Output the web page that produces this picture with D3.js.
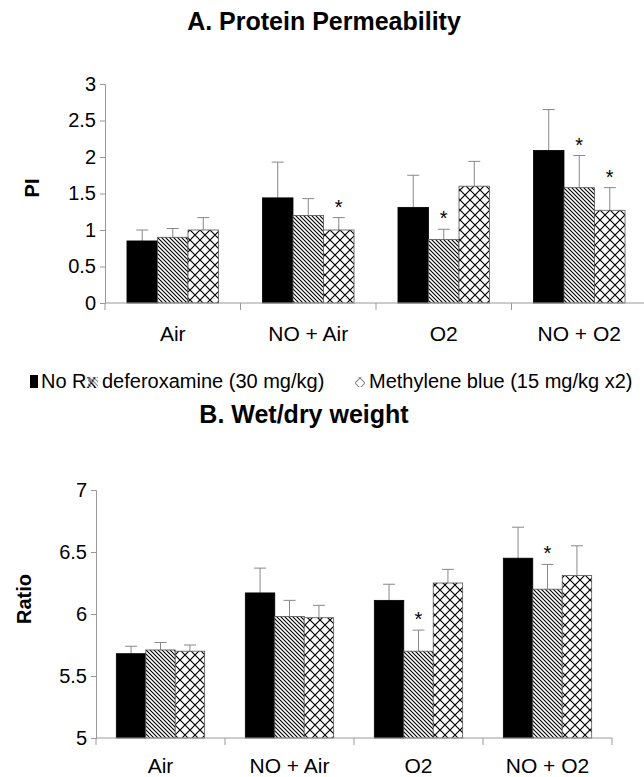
<!DOCTYPE html>
<html>
<head>
<meta charset="utf-8">
<script src="https://cdn.jsdelivr.net/npm/d3@7"></script>
<style>
  body { margin: 0; background: #fff; }
  svg { display: block; font-family: "Liberation Sans", Arial, sans-serif; }
</style>
</head>
<body>
<svg id="chart" width="644" height="777"></svg>
<script>
const categories = ["Air", "NO + Air", "O2", "NO + O2"];
const series = ["No Rx", "deferoxamine (30 mg/kg)", "Methylene blue (15 mg/kg x2)"];

// A. Protein permeability (PI): mean and mean + SE, per series
const piMean = [
  [0.85, 1.44, 1.31, 2.09],
  [0.90, 1.20, 0.87, 1.58],
  [1.00, 1.00, 1.60, 1.27],
];
const piTop = [
  [1.00, 1.93, 1.75, 2.65],
  [1.02, 1.43, 1.01, 2.02],
  [1.17, 1.17, 1.94, 1.58],
];
const piStar = [
  [false, false, false, false],
  [false, false, true, true],
  [false, true, false, true],
];
const piTicks = [0, 0.5, 1, 1.5, 2, 2.5, 3];

// B. Wet/dry weight ratio
const ratioMean = [
  [5.68, 6.17, 6.11, 6.45],
  [5.71, 5.98, 5.70, 6.20],
  [5.70, 5.97, 6.25, 6.31],
];
const ratioTop = [
  [5.74, 6.37, 6.24, 6.70],
  [5.77, 6.11, 5.87, 6.40],
  [5.75, 6.07, 6.36, 6.55],
];
const ratioStar = [
  [false, false, false, false],
  [false, false, true, true],
  [false, false, false, false],
];
const ratioTicks = [5, 5.5, 6, 6.5, 7];

const svg = d3.select("#chart");
const defs = svg.append("defs");

// hatch patterns
const hatch = defs.append("pattern").attr("id", "hatch")
  .attr("patternUnits", "userSpaceOnUse").attr("width", 4).attr("height", 4);
hatch.append("rect").attr("width", 4).attr("height", 4).attr("fill", "#fff");
hatch.append("path").attr("d", "M0,0L4,4M-1,3L1,5M3,-1L5,1")
  .attr("stroke", "#000").attr("stroke-width", 1.1);

const cross = defs.append("pattern").attr("id", "cross")
  .attr("patternUnits", "userSpaceOnUse").attr("width", 10).attr("height", 10);
cross.append("rect").attr("width", 10).attr("height", 10).attr("fill", "#fff");
cross.append("path").attr("d", "M0,0L10,10M10,0L0,10")
  .attr("stroke", "#000").attr("stroke-width", 1.2);

const fills = ["#000", "url(#hatch)", "url(#cross)"];

function panel(o) {
  const g = svg.append("g");

  g.append("text")
    .attr("x", o.titleX).attr("y", o.titleY)
    .attr("text-anchor", "middle")
    .attr("font-size", 25).attr("font-weight", "bold")
    .text(o.title);

  const x = d3.scaleBand().domain(categories).range(o.xRange).padding(0);
  const xs = d3.scaleBand().domain(d3.range(3))
    .range([0, x.bandwidth()]).paddingInner(0).paddingOuter(o.pad);
  const y = d3.scaleLinear().domain(o.yDomain).range(o.yRange);

  // y axis
  const yAxis = g.append("g")
    .attr("transform", `translate(${o.xRange[0]},0)`)
    .call(d3.axisLeft(y).tickValues(o.ticks).tickSize(5).tickPadding(4)
      .tickFormat(d3.format("")));
  yAxis.select(".domain").attr("stroke", "#999");
  yAxis.selectAll(".tick line").attr("stroke", "#999");
  yAxis.selectAll(".tick text").attr("font-size", 20)
    .attr("font-family", "Liberation Sans, Arial, sans-serif").attr("fill", "#000");

  g.append("text")
    .attr("transform", `translate(${o.labelX},${o.labelY}) rotate(-90)`)
    .attr("text-anchor", "middle")
    .attr("font-size", 20).attr("font-weight", "bold")
    .text(o.yLabel);

  // bars
  o.mean.forEach((vals, s) => {
    const sg = g.append("g");
    vals.forEach((v, i) => {
      const bx = x(categories[i]) + xs(s);
      const cx = bx + xs.bandwidth() / 2;
      sg.append("line")
        .attr("x1", cx).attr("x2", cx)
        .attr("y1", y(v)).attr("y2", y(o.top[s][i]))
        .attr("stroke", "#888").attr("stroke-width", 1);
      sg.append("line")
        .attr("x1", cx - 6).attr("x2", cx + 6)
        .attr("y1", y(o.top[s][i])).attr("y2", y(o.top[s][i]))
        .attr("stroke", "#888").attr("stroke-width", 1);
      sg.append("rect")
        .attr("x", bx).attr("width", xs.bandwidth())
        .attr("y", y(v)).attr("height", y(o.yDomain[0]) - y(v))
        .attr("fill", fills[s])
        .attr("stroke", s === 0 ? "#000" : "#555").attr("stroke-width", 0.8);
      if (o.star[s][i]) {
        sg.append("text")
          .attr("x", cx).attr("y", y(o.top[s][i]) - 4)
          .attr("text-anchor", "middle").attr("font-size", 20)
          .text("*");
      }
    });
  });

  // x axis
  const base = y(o.yDomain[0]);
  g.append("line")
    .attr("x1", o.xRange[0]).attr("x2", o.xRange[1])
    .attr("y1", base).attr("y2", base)
    .attr("stroke", "#999");
  const bounds = categories.map((c) => x(c)).concat([o.xRange[1]]);
  g.selectAll(".xtick").data(bounds).join("line")
    .attr("x1", (d) => d).attr("x2", (d) => d)
    .attr("y1", base).attr("y2", base + 7)
    .attr("stroke", "#999");
  g.selectAll(".xlab").data(categories).join("text")
    .attr("x", (d) => x(d) + x.bandwidth() / 2)
    .attr("y", base + o.xLabelDy)
    .attr("text-anchor", "middle").attr("font-size", 21)
    .text((d) => d);
}

panel({
  title: "A. Protein Permeability", titleX: 324, titleY: 30,
  xRange: [105, 647], pad: 0.72, yRange: [303, 84], yDomain: [0, 3], ticks: piTicks,
  yLabel: "PI", labelX: 39, labelY: 188, xLabelDy: 38,
  mean: piMean, top: piTop, star: piStar,
});

panel({
  title: "B. Wet/dry weight", titleX: 304, titleY: 423,
  xRange: [96, 612], pad: 0.69, yRange: [738, 490], yDomain: [5, 7], ticks: ratioTicks,
  yLabel: "Ratio", labelX: 31, labelY: 599, xLabelDy: 35,
  mean: ratioMean, top: ratioTop, star: ratioStar,
});

// legend
const legend = svg.append("g").attr("transform", "translate(0,388)");
const lx = [30, 88, 355];
series.forEach((name, s) => {
  legend.append("rect")
    .attr("x", lx[s]).attr("y", s === 0 ? -13 : -11)
    .attr("width", s === 0 ? 8 : 10).attr("height", s === 0 ? 13 : 10)
    .attr("fill", fills[s]).attr("opacity", s === 0 ? 1 : 0.45);
  legend.append("text")
    .attr("x", lx[s] + (s === 0 ? 11 : 14)).attr("y", 0)
    .attr("font-size", 20)
    .text(name);
});
</script>
</body>
</html>
